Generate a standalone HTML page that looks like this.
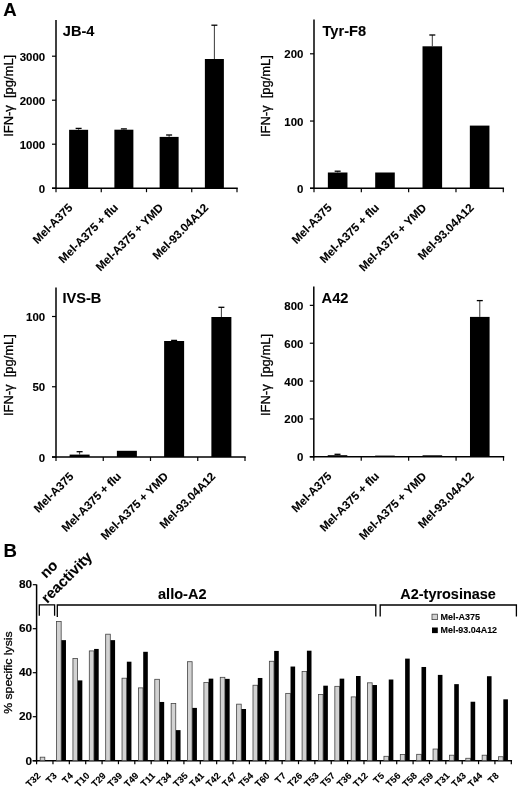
<!DOCTYPE html>
<html><head><meta charset="utf-8"><style>
html,body{margin:0;padding:0;background:#fff;width:520px;height:790px;overflow:hidden}
svg{display:block;font-family:"Liberation Sans", sans-serif;filter:grayscale(1)}
text{stroke:#000;stroke-width:0.1px}
text[font-weight=normal]{stroke-width:0.3px}
</style></head><body>
<svg width="520" height="790" viewBox="0 0 520 790">
<rect width="520" height="790" fill="#fff"/>
<line x1="56.00" y1="20.00" x2="56.00" y2="188.95" stroke="#000" stroke-width="1.5"/>
<line x1="52.00" y1="188.20" x2="237.75" y2="188.20" stroke="#000" stroke-width="1.5"/>
<line x1="56.00" y1="188.20" x2="56.00" y2="192.20" stroke="#000" stroke-width="1.2"/>
<line x1="101.25" y1="188.20" x2="101.25" y2="192.20" stroke="#000" stroke-width="1.2"/>
<line x1="146.50" y1="188.20" x2="146.50" y2="192.20" stroke="#000" stroke-width="1.2"/>
<line x1="191.75" y1="188.20" x2="191.75" y2="192.20" stroke="#000" stroke-width="1.2"/>
<line x1="237.00" y1="188.20" x2="237.00" y2="192.20" stroke="#000" stroke-width="1.2"/>
<line x1="52.00" y1="188.20" x2="56.00" y2="188.20" stroke="#000" stroke-width="1.2"/>
<text transform="translate(45.20 192.70) scale(1.1 1)" font-size="10.4" font-weight="bold" text-anchor="end">0</text>
<line x1="52.00" y1="144.20" x2="56.00" y2="144.20" stroke="#000" stroke-width="1.2"/>
<text transform="translate(45.20 148.70) scale(1.1 1)" font-size="10.4" font-weight="bold" text-anchor="end">1000</text>
<line x1="52.00" y1="100.20" x2="56.00" y2="100.20" stroke="#000" stroke-width="1.2"/>
<text transform="translate(45.20 104.70) scale(1.1 1)" font-size="10.4" font-weight="bold" text-anchor="end">2000</text>
<line x1="52.00" y1="56.20" x2="56.00" y2="56.20" stroke="#000" stroke-width="1.2"/>
<text transform="translate(45.20 60.70) scale(1.1 1)" font-size="10.4" font-weight="bold" text-anchor="end">3000</text>
<rect x="69.12" y="129.80" width="19.00" height="58.40" fill="#000"/>
<line x1="78.62" y1="128.40" x2="78.62" y2="129.80" stroke="#222" stroke-width="0.9"/>
<line x1="75.62" y1="128.40" x2="81.62" y2="128.40" stroke="#000" stroke-width="1.3"/>
<rect x="114.38" y="129.70" width="19.00" height="58.50" fill="#000"/>
<line x1="123.88" y1="128.90" x2="123.88" y2="129.70" stroke="#222" stroke-width="0.9"/>
<line x1="120.88" y1="128.90" x2="126.88" y2="128.90" stroke="#000" stroke-width="1.3"/>
<rect x="159.62" y="136.90" width="19.00" height="51.30" fill="#000"/>
<line x1="169.12" y1="135.00" x2="169.12" y2="136.90" stroke="#222" stroke-width="0.9"/>
<line x1="166.12" y1="135.00" x2="172.12" y2="135.00" stroke="#000" stroke-width="1.3"/>
<rect x="204.88" y="59.00" width="19.00" height="129.20" fill="#000"/>
<line x1="214.38" y1="25.20" x2="214.38" y2="59.00" stroke="#222" stroke-width="0.9"/>
<line x1="211.38" y1="25.20" x2="217.38" y2="25.20" stroke="#000" stroke-width="1.3"/>
<text transform="translate(62.80 36.20)" font-size="14.6" font-weight="bold" text-anchor="start">JB-4</text>
<text transform="translate(12.60 95.80) rotate(-90)" font-size="12.4" font-weight="normal" text-anchor="middle" textLength="82" lengthAdjust="spacingAndGlyphs">IFN-γ&#160;&#160;[pg/mL]</text>
<text transform="translate(73.42 208.40) rotate(-45)" font-size="11.6" font-weight="bold" text-anchor="end">Mel-A375</text>
<text transform="translate(118.67 208.40) rotate(-45)" font-size="11.6" font-weight="bold" text-anchor="end">Mel-A375 + flu</text>
<text transform="translate(163.93 208.40) rotate(-45)" font-size="11.6" font-weight="bold" text-anchor="end">Mel-A375 + YMD</text>
<text transform="translate(209.18 208.40) rotate(-45)" font-size="11.6" font-weight="bold" text-anchor="end">Mel-93.04A12</text>
<line x1="314.00" y1="19.50" x2="314.00" y2="189.05" stroke="#000" stroke-width="1.5"/>
<line x1="310.00" y1="188.30" x2="504.05" y2="188.30" stroke="#000" stroke-width="1.5"/>
<line x1="314.00" y1="188.30" x2="314.00" y2="192.30" stroke="#000" stroke-width="1.2"/>
<line x1="361.32" y1="188.30" x2="361.32" y2="192.30" stroke="#000" stroke-width="1.2"/>
<line x1="408.65" y1="188.30" x2="408.65" y2="192.30" stroke="#000" stroke-width="1.2"/>
<line x1="455.98" y1="188.30" x2="455.98" y2="192.30" stroke="#000" stroke-width="1.2"/>
<line x1="503.30" y1="188.30" x2="503.30" y2="192.30" stroke="#000" stroke-width="1.2"/>
<line x1="310.00" y1="188.30" x2="314.00" y2="188.30" stroke="#000" stroke-width="1.2"/>
<text transform="translate(303.40 192.80) scale(1.1 1)" font-size="10.4" font-weight="bold" text-anchor="end">0</text>
<line x1="310.00" y1="121.05" x2="314.00" y2="121.05" stroke="#000" stroke-width="1.2"/>
<text transform="translate(303.40 125.55) scale(1.1 1)" font-size="10.4" font-weight="bold" text-anchor="end">100</text>
<line x1="310.00" y1="53.80" x2="314.00" y2="53.80" stroke="#000" stroke-width="1.2"/>
<text transform="translate(303.40 58.30) scale(1.1 1)" font-size="10.4" font-weight="bold" text-anchor="end">200</text>
<rect x="327.86" y="172.50" width="19.60" height="15.80" fill="#000"/>
<line x1="337.66" y1="171.20" x2="337.66" y2="172.50" stroke="#222" stroke-width="0.9"/>
<line x1="334.66" y1="171.20" x2="340.66" y2="171.20" stroke="#000" stroke-width="1.3"/>
<rect x="375.19" y="172.50" width="19.60" height="15.80" fill="#000"/>
<rect x="422.51" y="46.30" width="19.60" height="142.00" fill="#000"/>
<line x1="432.31" y1="35.00" x2="432.31" y2="46.30" stroke="#222" stroke-width="0.9"/>
<line x1="429.31" y1="35.00" x2="435.31" y2="35.00" stroke="#000" stroke-width="1.3"/>
<rect x="469.84" y="125.60" width="19.60" height="62.70" fill="#000"/>
<text transform="translate(322.50 36.40)" font-size="14.6" font-weight="bold" text-anchor="start">Tyr-F8</text>
<text transform="translate(269.80 96.10) rotate(-90)" font-size="12.4" font-weight="normal" text-anchor="middle" textLength="82" lengthAdjust="spacingAndGlyphs">IFN-γ&#160;&#160;[pg/mL]</text>
<text transform="translate(332.46 208.50) rotate(-45)" font-size="11.6" font-weight="bold" text-anchor="end">Mel-A375</text>
<text transform="translate(379.79 208.50) rotate(-45)" font-size="11.6" font-weight="bold" text-anchor="end">Mel-A375 + flu</text>
<text transform="translate(427.11 208.50) rotate(-45)" font-size="11.6" font-weight="bold" text-anchor="end">Mel-A375 + YMD</text>
<text transform="translate(474.44 208.50) rotate(-45)" font-size="11.6" font-weight="bold" text-anchor="end">Mel-93.04A12</text>
<line x1="56.00" y1="287.40" x2="56.00" y2="457.75" stroke="#000" stroke-width="1.5"/>
<line x1="52.00" y1="457.00" x2="245.75" y2="457.00" stroke="#000" stroke-width="1.5"/>
<line x1="56.00" y1="457.00" x2="56.00" y2="461.00" stroke="#000" stroke-width="1.2"/>
<line x1="103.25" y1="457.00" x2="103.25" y2="461.00" stroke="#000" stroke-width="1.2"/>
<line x1="150.50" y1="457.00" x2="150.50" y2="461.00" stroke="#000" stroke-width="1.2"/>
<line x1="197.75" y1="457.00" x2="197.75" y2="461.00" stroke="#000" stroke-width="1.2"/>
<line x1="245.00" y1="457.00" x2="245.00" y2="461.00" stroke="#000" stroke-width="1.2"/>
<line x1="52.00" y1="457.00" x2="56.00" y2="457.00" stroke="#000" stroke-width="1.2"/>
<text transform="translate(45.20 461.50) scale(1.1 1)" font-size="10.4" font-weight="bold" text-anchor="end">0</text>
<line x1="52.00" y1="386.75" x2="56.00" y2="386.75" stroke="#000" stroke-width="1.2"/>
<text transform="translate(45.20 391.25) scale(1.1 1)" font-size="10.4" font-weight="bold" text-anchor="end">50</text>
<line x1="52.00" y1="316.50" x2="56.00" y2="316.50" stroke="#000" stroke-width="1.2"/>
<text transform="translate(45.20 321.00) scale(1.1 1)" font-size="10.4" font-weight="bold" text-anchor="end">100</text>
<rect x="69.62" y="454.60" width="20.00" height="2.40" fill="#000"/>
<line x1="79.62" y1="451.70" x2="79.62" y2="454.60" stroke="#222" stroke-width="0.9"/>
<line x1="76.62" y1="451.70" x2="82.62" y2="451.70" stroke="#000" stroke-width="1.3"/>
<rect x="116.88" y="450.80" width="20.00" height="6.20" fill="#000"/>
<rect x="164.12" y="341.00" width="20.00" height="116.00" fill="#000"/>
<line x1="174.12" y1="340.40" x2="174.12" y2="341.00" stroke="#222" stroke-width="0.9"/>
<line x1="171.12" y1="340.40" x2="177.12" y2="340.40" stroke="#000" stroke-width="1.3"/>
<rect x="211.38" y="317.00" width="20.00" height="140.00" fill="#000"/>
<line x1="221.38" y1="307.30" x2="221.38" y2="317.00" stroke="#222" stroke-width="0.9"/>
<line x1="218.38" y1="307.30" x2="224.38" y2="307.30" stroke="#000" stroke-width="1.3"/>
<text transform="translate(62.40 303.40)" font-size="14.6" font-weight="bold" text-anchor="start">IVS-B</text>
<text transform="translate(12.80 375.10) rotate(-90)" font-size="12.4" font-weight="normal" text-anchor="middle" textLength="82" lengthAdjust="spacingAndGlyphs">IFN-γ&#160;&#160;[pg/mL]</text>
<text transform="translate(74.42 477.20) rotate(-45)" font-size="11.6" font-weight="bold" text-anchor="end">Mel-A375</text>
<text transform="translate(121.67 477.20) rotate(-45)" font-size="11.6" font-weight="bold" text-anchor="end">Mel-A375 + flu</text>
<text transform="translate(168.93 477.20) rotate(-45)" font-size="11.6" font-weight="bold" text-anchor="end">Mel-A375 + YMD</text>
<text transform="translate(216.18 477.20) rotate(-45)" font-size="11.6" font-weight="bold" text-anchor="end">Mel-93.04A12</text>
<line x1="313.80" y1="286.60" x2="313.80" y2="457.55" stroke="#000" stroke-width="1.5"/>
<line x1="309.80" y1="456.80" x2="504.25" y2="456.80" stroke="#000" stroke-width="1.5"/>
<line x1="313.80" y1="456.80" x2="313.80" y2="460.80" stroke="#000" stroke-width="1.2"/>
<line x1="361.23" y1="456.80" x2="361.23" y2="460.80" stroke="#000" stroke-width="1.2"/>
<line x1="408.65" y1="456.80" x2="408.65" y2="460.80" stroke="#000" stroke-width="1.2"/>
<line x1="456.07" y1="456.80" x2="456.07" y2="460.80" stroke="#000" stroke-width="1.2"/>
<line x1="503.50" y1="456.80" x2="503.50" y2="460.80" stroke="#000" stroke-width="1.2"/>
<line x1="309.80" y1="456.80" x2="313.80" y2="456.80" stroke="#000" stroke-width="1.2"/>
<text transform="translate(303.40 461.30) scale(1.1 1)" font-size="10.4" font-weight="bold" text-anchor="end">0</text>
<line x1="309.80" y1="418.94" x2="313.80" y2="418.94" stroke="#000" stroke-width="1.2"/>
<text transform="translate(303.40 423.44) scale(1.1 1)" font-size="10.4" font-weight="bold" text-anchor="end">200</text>
<line x1="309.80" y1="381.08" x2="313.80" y2="381.08" stroke="#000" stroke-width="1.2"/>
<text transform="translate(303.40 385.58) scale(1.1 1)" font-size="10.4" font-weight="bold" text-anchor="end">400</text>
<line x1="309.80" y1="343.22" x2="313.80" y2="343.22" stroke="#000" stroke-width="1.2"/>
<text transform="translate(303.40 347.72) scale(1.1 1)" font-size="10.4" font-weight="bold" text-anchor="end">600</text>
<line x1="309.80" y1="305.36" x2="313.80" y2="305.36" stroke="#000" stroke-width="1.2"/>
<text transform="translate(303.40 309.86) scale(1.1 1)" font-size="10.4" font-weight="bold" text-anchor="end">800</text>
<rect x="327.71" y="455.20" width="19.60" height="1.60" fill="#000"/>
<line x1="337.51" y1="454.30" x2="337.51" y2="455.20" stroke="#222" stroke-width="0.9"/>
<line x1="334.51" y1="454.30" x2="340.51" y2="454.30" stroke="#000" stroke-width="1.3"/>
<rect x="375.14" y="455.60" width="19.60" height="1.20" fill="#000"/>
<rect x="422.56" y="455.30" width="19.60" height="1.50" fill="#000"/>
<rect x="469.99" y="316.90" width="19.60" height="139.90" fill="#000"/>
<line x1="479.79" y1="300.60" x2="479.79" y2="316.90" stroke="#222" stroke-width="0.9"/>
<line x1="476.79" y1="300.60" x2="482.79" y2="300.60" stroke="#000" stroke-width="1.3"/>
<text transform="translate(321.60 303.20)" font-size="14.6" font-weight="bold" text-anchor="start">A42</text>
<text transform="translate(269.90 375.00) rotate(-90)" font-size="12.4" font-weight="normal" text-anchor="middle" textLength="82" lengthAdjust="spacingAndGlyphs">IFN-γ&#160;&#160;[pg/mL]</text>
<text transform="translate(332.31 477.00) rotate(-45)" font-size="11.6" font-weight="bold" text-anchor="end">Mel-A375</text>
<text transform="translate(379.74 477.00) rotate(-45)" font-size="11.6" font-weight="bold" text-anchor="end">Mel-A375 + flu</text>
<text transform="translate(427.16 477.00) rotate(-45)" font-size="11.6" font-weight="bold" text-anchor="end">Mel-A375 + YMD</text>
<text transform="translate(474.59 477.00) rotate(-45)" font-size="11.6" font-weight="bold" text-anchor="end">Mel-93.04A12</text>
<text transform="translate(3.20 15.80)" font-size="18.6" font-weight="bold" text-anchor="start">A</text>
<text transform="translate(3.60 557.20)" font-size="18.6" font-weight="bold" text-anchor="start">B</text>
<line x1="36.60" y1="584.50" x2="36.60" y2="761.45" stroke="#000" stroke-width="1.5"/>
<line x1="32.60" y1="760.70" x2="512.05" y2="760.70" stroke="#000" stroke-width="1.5"/>
<line x1="32.80" y1="760.70" x2="36.60" y2="760.70" stroke="#000" stroke-width="1.2"/>
<text transform="translate(32.20 765.40) scale(1.1 1)" font-size="10.8" font-weight="bold" text-anchor="end">0</text>
<line x1="32.80" y1="716.70" x2="36.60" y2="716.70" stroke="#000" stroke-width="1.2"/>
<text transform="translate(32.20 719.90) scale(1.1 1)" font-size="10.8" font-weight="bold" text-anchor="end">20</text>
<line x1="32.80" y1="672.70" x2="36.60" y2="672.70" stroke="#000" stroke-width="1.2"/>
<text transform="translate(32.20 675.90) scale(1.1 1)" font-size="10.8" font-weight="bold" text-anchor="end">40</text>
<line x1="32.80" y1="628.70" x2="36.60" y2="628.70" stroke="#000" stroke-width="1.2"/>
<text transform="translate(32.20 631.90) scale(1.1 1)" font-size="10.8" font-weight="bold" text-anchor="end">60</text>
<line x1="32.80" y1="584.70" x2="36.60" y2="584.70" stroke="#000" stroke-width="1.2"/>
<text transform="translate(32.20 587.90) scale(1.1 1)" font-size="10.8" font-weight="bold" text-anchor="end">80</text>
<line x1="36.60" y1="760.70" x2="36.60" y2="764.20" stroke="#000" stroke-width="1.2"/>
<line x1="52.97" y1="760.70" x2="52.97" y2="764.20" stroke="#000" stroke-width="1.2"/>
<line x1="69.34" y1="760.70" x2="69.34" y2="764.20" stroke="#000" stroke-width="1.2"/>
<line x1="85.71" y1="760.70" x2="85.71" y2="764.20" stroke="#000" stroke-width="1.2"/>
<line x1="102.08" y1="760.70" x2="102.08" y2="764.20" stroke="#000" stroke-width="1.2"/>
<line x1="118.44" y1="760.70" x2="118.44" y2="764.20" stroke="#000" stroke-width="1.2"/>
<line x1="134.81" y1="760.70" x2="134.81" y2="764.20" stroke="#000" stroke-width="1.2"/>
<line x1="151.18" y1="760.70" x2="151.18" y2="764.20" stroke="#000" stroke-width="1.2"/>
<line x1="167.55" y1="760.70" x2="167.55" y2="764.20" stroke="#000" stroke-width="1.2"/>
<line x1="183.92" y1="760.70" x2="183.92" y2="764.20" stroke="#000" stroke-width="1.2"/>
<line x1="200.29" y1="760.70" x2="200.29" y2="764.20" stroke="#000" stroke-width="1.2"/>
<line x1="216.66" y1="760.70" x2="216.66" y2="764.20" stroke="#000" stroke-width="1.2"/>
<line x1="233.03" y1="760.70" x2="233.03" y2="764.20" stroke="#000" stroke-width="1.2"/>
<line x1="249.40" y1="760.70" x2="249.40" y2="764.20" stroke="#000" stroke-width="1.2"/>
<line x1="265.77" y1="760.70" x2="265.77" y2="764.20" stroke="#000" stroke-width="1.2"/>
<line x1="282.13" y1="760.70" x2="282.13" y2="764.20" stroke="#000" stroke-width="1.2"/>
<line x1="298.50" y1="760.70" x2="298.50" y2="764.20" stroke="#000" stroke-width="1.2"/>
<line x1="314.87" y1="760.70" x2="314.87" y2="764.20" stroke="#000" stroke-width="1.2"/>
<line x1="331.24" y1="760.70" x2="331.24" y2="764.20" stroke="#000" stroke-width="1.2"/>
<line x1="347.61" y1="760.70" x2="347.61" y2="764.20" stroke="#000" stroke-width="1.2"/>
<line x1="363.98" y1="760.70" x2="363.98" y2="764.20" stroke="#000" stroke-width="1.2"/>
<line x1="380.35" y1="760.70" x2="380.35" y2="764.20" stroke="#000" stroke-width="1.2"/>
<line x1="396.72" y1="760.70" x2="396.72" y2="764.20" stroke="#000" stroke-width="1.2"/>
<line x1="413.09" y1="760.70" x2="413.09" y2="764.20" stroke="#000" stroke-width="1.2"/>
<line x1="429.46" y1="760.70" x2="429.46" y2="764.20" stroke="#000" stroke-width="1.2"/>
<line x1="445.82" y1="760.70" x2="445.82" y2="764.20" stroke="#000" stroke-width="1.2"/>
<line x1="462.19" y1="760.70" x2="462.19" y2="764.20" stroke="#000" stroke-width="1.2"/>
<line x1="478.56" y1="760.70" x2="478.56" y2="764.20" stroke="#000" stroke-width="1.2"/>
<line x1="494.93" y1="760.70" x2="494.93" y2="764.20" stroke="#000" stroke-width="1.2"/>
<line x1="511.30" y1="760.70" x2="511.30" y2="764.20" stroke="#000" stroke-width="1.2"/>
<rect x="40.20" y="757.18" width="4.60" height="3.52" fill="#d2d2d2" stroke="#444" stroke-width="0.8"/>
<rect x="45.00" y="760.04" width="4.60" height="0.66" fill="#000"/>
<text transform="translate(41.08 776.40) rotate(-45)" font-size="9.4" font-weight="bold" text-anchor="end">T32</text>
<rect x="56.57" y="621.44" width="4.60" height="139.26" fill="#d2d2d2" stroke="#444" stroke-width="0.8"/>
<rect x="61.37" y="640.14" width="4.60" height="120.56" fill="#000"/>
<text transform="translate(57.45 776.40) rotate(-45)" font-size="9.4" font-weight="bold" text-anchor="end">T3</text>
<rect x="72.94" y="658.40" width="4.60" height="102.30" fill="#d2d2d2" stroke="#444" stroke-width="0.8"/>
<rect x="77.74" y="680.40" width="4.60" height="80.30" fill="#000"/>
<text transform="translate(73.82 776.40) rotate(-45)" font-size="9.4" font-weight="bold" text-anchor="end">T4</text>
<rect x="89.31" y="650.92" width="4.60" height="109.78" fill="#d2d2d2" stroke="#444" stroke-width="0.8"/>
<rect x="94.11" y="648.94" width="4.60" height="111.76" fill="#000"/>
<text transform="translate(90.19 776.40) rotate(-45)" font-size="9.4" font-weight="bold" text-anchor="end">T10</text>
<rect x="105.68" y="634.20" width="4.60" height="126.50" fill="#d2d2d2" stroke="#444" stroke-width="0.8"/>
<rect x="110.48" y="640.14" width="4.60" height="120.56" fill="#000"/>
<text transform="translate(106.56 776.40) rotate(-45)" font-size="9.4" font-weight="bold" text-anchor="end">T29</text>
<rect x="122.04" y="678.20" width="4.60" height="82.50" fill="#d2d2d2" stroke="#444" stroke-width="0.8"/>
<rect x="126.84" y="661.70" width="4.60" height="99.00" fill="#000"/>
<text transform="translate(122.93 776.40) rotate(-45)" font-size="9.4" font-weight="bold" text-anchor="end">T39</text>
<rect x="138.41" y="687.88" width="4.60" height="72.82" fill="#d2d2d2" stroke="#444" stroke-width="0.8"/>
<rect x="143.21" y="651.80" width="4.60" height="108.90" fill="#000"/>
<text transform="translate(139.30 776.40) rotate(-45)" font-size="9.4" font-weight="bold" text-anchor="end">T49</text>
<rect x="154.78" y="679.30" width="4.60" height="81.40" fill="#d2d2d2" stroke="#444" stroke-width="0.8"/>
<rect x="159.58" y="701.96" width="4.60" height="58.74" fill="#000"/>
<text transform="translate(155.67 776.40) rotate(-45)" font-size="9.4" font-weight="bold" text-anchor="end">T11</text>
<rect x="171.15" y="703.50" width="4.60" height="57.20" fill="#d2d2d2" stroke="#444" stroke-width="0.8"/>
<rect x="175.95" y="730.12" width="4.60" height="30.58" fill="#000"/>
<text transform="translate(172.04 776.40) rotate(-45)" font-size="9.4" font-weight="bold" text-anchor="end">T34</text>
<rect x="187.52" y="661.70" width="4.60" height="99.00" fill="#d2d2d2" stroke="#444" stroke-width="0.8"/>
<rect x="192.32" y="707.90" width="4.60" height="52.80" fill="#000"/>
<text transform="translate(188.41 776.40) rotate(-45)" font-size="9.4" font-weight="bold" text-anchor="end">T35</text>
<rect x="203.89" y="682.60" width="4.60" height="78.10" fill="#d2d2d2" stroke="#444" stroke-width="0.8"/>
<rect x="208.69" y="678.64" width="4.60" height="82.06" fill="#000"/>
<text transform="translate(204.77 776.40) rotate(-45)" font-size="9.4" font-weight="bold" text-anchor="end">T41</text>
<rect x="220.26" y="677.32" width="4.60" height="83.38" fill="#d2d2d2" stroke="#444" stroke-width="0.8"/>
<rect x="225.06" y="678.86" width="4.60" height="81.84" fill="#000"/>
<text transform="translate(221.14 776.40) rotate(-45)" font-size="9.4" font-weight="bold" text-anchor="end">T42</text>
<rect x="236.63" y="704.16" width="4.60" height="56.54" fill="#d2d2d2" stroke="#444" stroke-width="0.8"/>
<rect x="241.43" y="709.00" width="4.60" height="51.70" fill="#000"/>
<text transform="translate(237.51 776.40) rotate(-45)" font-size="9.4" font-weight="bold" text-anchor="end">T47</text>
<rect x="253.00" y="685.24" width="4.60" height="75.46" fill="#d2d2d2" stroke="#444" stroke-width="0.8"/>
<rect x="257.80" y="677.98" width="4.60" height="82.72" fill="#000"/>
<text transform="translate(253.88 776.40) rotate(-45)" font-size="9.4" font-weight="bold" text-anchor="end">T54</text>
<rect x="269.37" y="661.26" width="4.60" height="99.44" fill="#d2d2d2" stroke="#444" stroke-width="0.8"/>
<rect x="274.17" y="650.92" width="4.60" height="109.78" fill="#000"/>
<text transform="translate(270.25 776.40) rotate(-45)" font-size="9.4" font-weight="bold" text-anchor="end">T60</text>
<rect x="285.73" y="693.38" width="4.60" height="67.32" fill="#d2d2d2" stroke="#444" stroke-width="0.8"/>
<rect x="290.53" y="666.54" width="4.60" height="94.16" fill="#000"/>
<text transform="translate(286.62 776.40) rotate(-45)" font-size="9.4" font-weight="bold" text-anchor="end">T7</text>
<rect x="302.10" y="671.60" width="4.60" height="89.10" fill="#d2d2d2" stroke="#444" stroke-width="0.8"/>
<rect x="306.90" y="650.70" width="4.60" height="110.00" fill="#000"/>
<text transform="translate(302.99 776.40) rotate(-45)" font-size="9.4" font-weight="bold" text-anchor="end">T26</text>
<rect x="318.47" y="694.48" width="4.60" height="66.22" fill="#d2d2d2" stroke="#444" stroke-width="0.8"/>
<rect x="323.27" y="685.68" width="4.60" height="75.02" fill="#000"/>
<text transform="translate(319.36 776.40) rotate(-45)" font-size="9.4" font-weight="bold" text-anchor="end">T53</text>
<rect x="334.84" y="686.34" width="4.60" height="74.36" fill="#d2d2d2" stroke="#444" stroke-width="0.8"/>
<rect x="339.64" y="678.64" width="4.60" height="82.06" fill="#000"/>
<text transform="translate(335.73 776.40) rotate(-45)" font-size="9.4" font-weight="bold" text-anchor="end">T57</text>
<rect x="351.21" y="696.90" width="4.60" height="63.80" fill="#d2d2d2" stroke="#444" stroke-width="0.8"/>
<rect x="356.01" y="676.00" width="4.60" height="84.70" fill="#000"/>
<text transform="translate(352.09 776.40) rotate(-45)" font-size="9.4" font-weight="bold" text-anchor="end">T36</text>
<rect x="367.58" y="682.82" width="4.60" height="77.88" fill="#d2d2d2" stroke="#444" stroke-width="0.8"/>
<rect x="372.38" y="685.02" width="4.60" height="75.68" fill="#000"/>
<text transform="translate(368.46 776.40) rotate(-45)" font-size="9.4" font-weight="bold" text-anchor="end">T12</text>
<rect x="383.95" y="756.30" width="4.60" height="4.40" fill="#d2d2d2" stroke="#444" stroke-width="0.8"/>
<rect x="388.75" y="679.52" width="4.60" height="81.18" fill="#000"/>
<text transform="translate(384.83 776.40) rotate(-45)" font-size="9.4" font-weight="bold" text-anchor="end">T5</text>
<rect x="400.32" y="754.54" width="4.60" height="6.16" fill="#d2d2d2" stroke="#444" stroke-width="0.8"/>
<rect x="405.12" y="658.62" width="4.60" height="102.08" fill="#000"/>
<text transform="translate(401.20 776.40) rotate(-45)" font-size="9.4" font-weight="bold" text-anchor="end">T56</text>
<rect x="416.69" y="754.32" width="4.60" height="6.38" fill="#d2d2d2" stroke="#444" stroke-width="0.8"/>
<rect x="421.49" y="666.98" width="4.60" height="93.72" fill="#000"/>
<text transform="translate(417.57 776.40) rotate(-45)" font-size="9.4" font-weight="bold" text-anchor="end">T58</text>
<rect x="433.06" y="749.04" width="4.60" height="11.66" fill="#d2d2d2" stroke="#444" stroke-width="0.8"/>
<rect x="437.86" y="674.90" width="4.60" height="85.80" fill="#000"/>
<text transform="translate(433.94 776.40) rotate(-45)" font-size="9.4" font-weight="bold" text-anchor="end">T59</text>
<rect x="449.42" y="755.20" width="4.60" height="5.50" fill="#d2d2d2" stroke="#444" stroke-width="0.8"/>
<rect x="454.22" y="684.14" width="4.60" height="76.56" fill="#000"/>
<text transform="translate(450.31 776.40) rotate(-45)" font-size="9.4" font-weight="bold" text-anchor="end">T31</text>
<rect x="465.79" y="758.28" width="4.60" height="2.42" fill="#d2d2d2" stroke="#444" stroke-width="0.8"/>
<rect x="470.59" y="701.74" width="4.60" height="58.96" fill="#000"/>
<text transform="translate(466.68 776.40) rotate(-45)" font-size="9.4" font-weight="bold" text-anchor="end">T43</text>
<rect x="482.16" y="755.20" width="4.60" height="5.50" fill="#d2d2d2" stroke="#444" stroke-width="0.8"/>
<rect x="486.96" y="676.22" width="4.60" height="84.48" fill="#000"/>
<text transform="translate(483.05 776.40) rotate(-45)" font-size="9.4" font-weight="bold" text-anchor="end">T44</text>
<rect x="498.53" y="756.74" width="4.60" height="3.96" fill="#d2d2d2" stroke="#444" stroke-width="0.8"/>
<rect x="503.33" y="699.32" width="4.60" height="61.38" fill="#000"/>
<text transform="translate(499.42 776.40) rotate(-45)" font-size="9.4" font-weight="bold" text-anchor="end">T8</text>
<text transform="translate(11.90 672.60) rotate(-90)" font-size="11.3" font-weight="normal" text-anchor="middle" textLength="82.5" lengthAdjust="spacingAndGlyphs">% specific lysis</text>
<path d="M39.30 615.80 V604.80 H54.60 V615.80" fill="none" stroke="#000" stroke-width="1.3"/>
<path d="M57.30 617.00 V605.00 H375.80 V616.50" fill="none" stroke="#000" stroke-width="1.3"/>
<path d="M380.20 616.50 V605.00 H516.40 V616.50" fill="none" stroke="#000" stroke-width="1.3"/>
<text transform="translate(158.00 598.50)" font-size="14" font-weight="bold" text-anchor="start" textLength="48.5" lengthAdjust="spacingAndGlyphs">allo-A2</text>
<text transform="translate(400.30 598.70)" font-size="14" font-weight="bold" text-anchor="start" textLength="95.5" lengthAdjust="spacingAndGlyphs">A2-tyrosinase</text>
<text transform="translate(45.90 579.10) rotate(-45)" font-size="14.8" font-weight="bold" text-anchor="start">no</text>
<text transform="translate(47.20 603.90) rotate(-45)" font-size="14.8" font-weight="bold" text-anchor="start">reactivity</text>
<rect x="432.00" y="614.20" width="5.40" height="5.40" fill="#d2d2d2" stroke="#444" stroke-width="0.8"/>
<rect x="432.00" y="627.50" width="5.80" height="5.60" fill="#000"/>
<text transform="translate(440.50 620.00)" font-size="9.8" font-weight="bold" text-anchor="start" textLength="39.6" lengthAdjust="spacingAndGlyphs">Mel-A375</text>
<text transform="translate(440.50 633.00)" font-size="9.8" font-weight="bold" text-anchor="start" textLength="56.6" lengthAdjust="spacingAndGlyphs">Mel-93.04A12</text>
</svg>
</body></html>
